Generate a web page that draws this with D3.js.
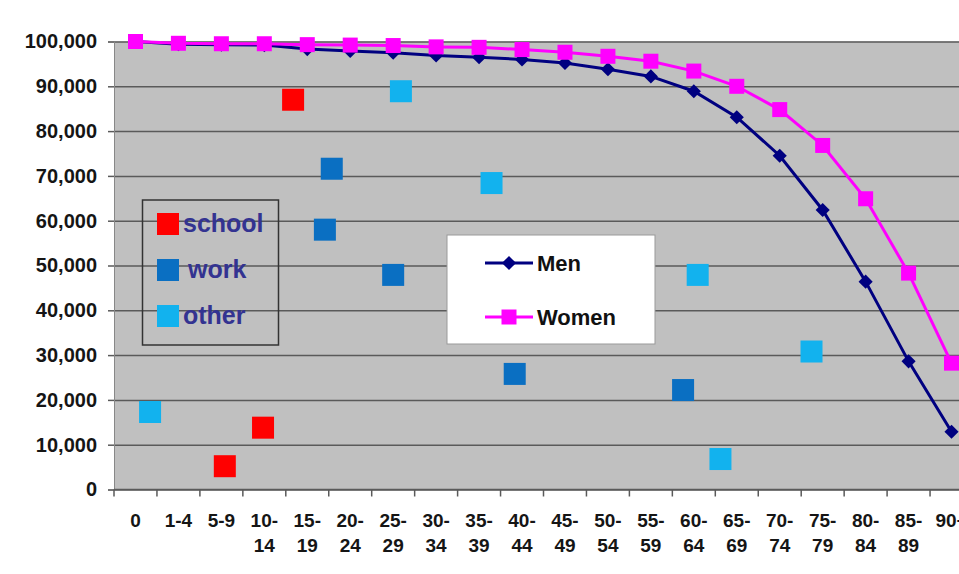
<!DOCTYPE html>
<html>
<head>
<meta charset="utf-8">
<script src="https://cdn.jsdelivr.net/npm/d3@7"></script>
<style>
  body { margin: 0; background: #fff; }
  svg { display: block; font-family: "Liberation Sans", Arial, sans-serif; font-weight: bold; }
</style>
</head>
<body>
<div id="chart"></div>
<script>
// age groups on the x axis
const ageGroups = ['0', '1-4', '5-9', '10-14', '15-19', '20-24', '25-29', '30-34', '35-39', '40-44',
  '45-49', '50-54', '55-59', '60-64', '65-69', '70-74', '75-79', '80-84', '85-89', '90+']

// survivors per 100,000
const men = [100000, 99400, 99300, 99200, 98300, 97900, 97500, 96900, 96500, 96000,
  95200, 93800, 92200, 88900, 83100, 74500, 62400, 46400, 28600, 12900]
const women = [100000, 99600, 99500, 99500, 99300, 99200, 99100, 98800, 98700, 98200,
  97600, 96700, 95600, 93400, 90000, 84800, 76800, 64900, 48300, 28200]

// loose squares: [position in age-group units, value]
const school = [[2.08, 5200], [2.97, 13800], [3.67, 87000]]
const work = [[4.57, 71600], [4.41, 58000], [6.0, 47900], [8.83, 25800], [12.75, 22200]]
const other = [[0.34, 17300], [6.18, 88900], [8.29, 68400], [13.09, 47900], [13.62, 6800], [15.74, 30800]]

const yTicks = [0, 10000, 20000, 30000, 40000, 50000, 60000, 70000, 80000, 90000, 100000]

const width = 959
const height = 574
const margin = { top: 41.5, left: 114 }
const plotW = 859
const plotH = 448

const svg = d3.select('#chart').append('svg')
  .attr('width', width)
  .attr('height', height)

const g = svg.append('g')
  .attr('transform', `translate(${margin.left}, ${margin.top})`)

const x = d3.scaleBand().domain(ageGroups).range([0, plotW])
const y = d3.scaleLinear().domain([0, 100000]).range([plotH, 0])
const half = x.bandwidth() / 2
const xi = d3.scaleLinear()
  .domain([0, ageGroups.length - 1])
  .range([x(ageGroups[0]) + half, x(ageGroups[ageGroups.length - 1]) + half])

g.append('rect')
  .attr('width', plotW)
  .attr('height', plotH)
  .attr('fill', '#c0c0c0')

// gridlines
g.append('g')
  .call(d3.axisLeft(y).tickValues(yTicks).tickSize(-plotW).tickFormat(''))
  .call(a => a.select('.domain').remove())
  .call(a => a.selectAll('line').attr('stroke', '#5a5a5a').attr('stroke-width', 1.5))

// y axis
g.append('g')
  .call(d3.axisLeft(y).tickValues(yTicks).tickSize(6).tickPadding(11).tickFormat(d3.format(',')))
  .call(a => a.select('.domain').attr('stroke', '#888'))
  .call(a => a.selectAll('line').attr('stroke', '#5a5a5a').attr('stroke-width', 1.5))
  .call(a => a.selectAll('text')
    .attr('font-size', 20)
    .attr('font-weight', 'bold')
    .attr('font-family', '"Liberation Sans", Arial, sans-serif')
    .attr('fill', '#151515'))

// x axis line and tick marks at the band edges
const xa = g.append('g').attr('transform', `translate(0, ${plotH})`)
xa.append('line')
  .attr('x1', 0).attr('x2', plotW)
  .attr('stroke', '#5a5a5a').attr('stroke-width', 1.5)
xa.selectAll('.tk')
  .data(ageGroups)
  .enter().append('line')
  .attr('class', 'tk')
  .attr('x1', d => x(d)).attr('x2', d => x(d))
  .attr('y1', 0).attr('y2', 7)
  .attr('stroke', '#5a5a5a').attr('stroke-width', 1.5)

const lab = xa.selectAll('.lab')
  .data(ageGroups)
  .enter().append('text')
  .attr('class', 'lab')
  .attr('text-anchor', 'middle')
  .attr('font-size', 19)
  .attr('fill', '#151515')
lab.each(function (d) {
  const parts = d.split('-')
  const t = d3.select(this)
  if (parts.length === 2 && parts[0].length > 1) {
    t.append('tspan').attr('x', x(d) + half).attr('y', 37.5).text(parts[0] + '-')
    t.append('tspan').attr('x', x(d) + half).attr('y', 62.5).text(parts[1])
  } else {
    t.append('tspan').attr('x', x(d) + half).attr('y', 37.5).text(d)
  }
})

// loose squares
const sq = 22
const squares = [
  { data: school, color: '#ff0000' },
  { data: work, color: '#0a6fc2' },
  { data: other, color: '#12b2ee' }
]
squares.forEach(s => {
  g.selectAll(null)
    .data(s.data)
    .enter().append('rect')
    .attr('x', d => xi(d[0]) - sq / 2)
    .attr('y', d => y(d[1]) - sq / 2)
    .attr('width', sq)
    .attr('height', sq)
    .attr('fill', s.color)
})

// lines
const line = d3.line()
  .x((d, i) => x(ageGroups[i]) + half)
  .y(d => y(d))

const diamond = d3.symbol().type(d3.symbolSquare).size(100)
const box = d3.symbol().type(d3.symbolSquare).size(225)

g.append('path')
  .datum(men)
  .attr('d', line)
  .attr('fill', 'none')
  .attr('stroke', '#000080')
  .attr('stroke-width', 3)
g.selectAll('.men')
  .data(men)
  .enter().append('path')
  .attr('class', 'men')
  .attr('d', diamond)
  .attr('transform', (d, i) => `translate(${x(ageGroups[i]) + half}, ${y(d)}) rotate(45)`)
  .attr('fill', '#000080')

g.append('path')
  .datum(women)
  .attr('d', line)
  .attr('fill', 'none')
  .attr('stroke', '#ff00ff')
  .attr('stroke-width', 3)
g.selectAll('.women')
  .data(women)
  .enter().append('path')
  .attr('class', 'women')
  .attr('d', box)
  .attr('transform', (d, i) => `translate(${x(ageGroups[i]) + half}, ${y(d)})`)
  .attr('fill', '#ff00ff')

// legend for squares
const leg1 = svg.append('g')
leg1.append('rect')
  .attr('x', 142.5).attr('y', 200)
  .attr('width', 136).attr('height', 145)
  .attr('fill', 'none')
  .attr('stroke', '#333').attr('stroke-width', 1.5)
const leg1Items = [
  { name: 'school', color: '#ff0000', dx: 0 },
  { name: 'work', color: '#0a6fc2', dx: 5 },
  { name: 'other', color: '#12b2ee', dx: 0 }
]
leg1Items.forEach((d, i) => {
  const cy = 224 + i * 46
  leg1.append('rect')
    .attr('x', 157).attr('y', cy - 11)
    .attr('width', 22).attr('height', 22)
    .attr('fill', d.color)
  leg1.append('text')
    .attr('x', 183 + d.dx).attr('y', cy)
    .attr('dy', '0.32em')
    .attr('font-size', 25)
    .attr('fill', '#333391')
    .text(d.name)
})

// legend for lines
const leg2 = svg.append('g')
leg2.append('rect')
  .attr('x', 447).attr('y', 235)
  .attr('width', 208).attr('height', 109)
  .attr('fill', '#fff')
  .attr('stroke', '#999').attr('stroke-width', 1)
const leg2Items = [
  { name: 'Men', color: '#000080', sym: diamond, rot: 45, cy: 263 },
  { name: 'Women', color: '#ff00ff', sym: box, rot: 0, cy: 317 }
]
leg2Items.forEach(d => {
  leg2.append('line')
    .attr('x1', 485).attr('x2', 533)
    .attr('y1', d.cy).attr('y2', d.cy)
    .attr('stroke', d.color).attr('stroke-width', 3)
  leg2.append('path')
    .attr('d', d.sym)
    .attr('transform', `translate(509, ${d.cy}) rotate(${d.rot})`)
    .attr('fill', d.color)
  leg2.append('text')
    .attr('x', 537).attr('y', d.cy)
    .attr('dy', '0.35em')
    .attr('font-size', 22)
    .attr('fill', '#111')
    .text(d.name)
})
</script>
</body>
</html>
